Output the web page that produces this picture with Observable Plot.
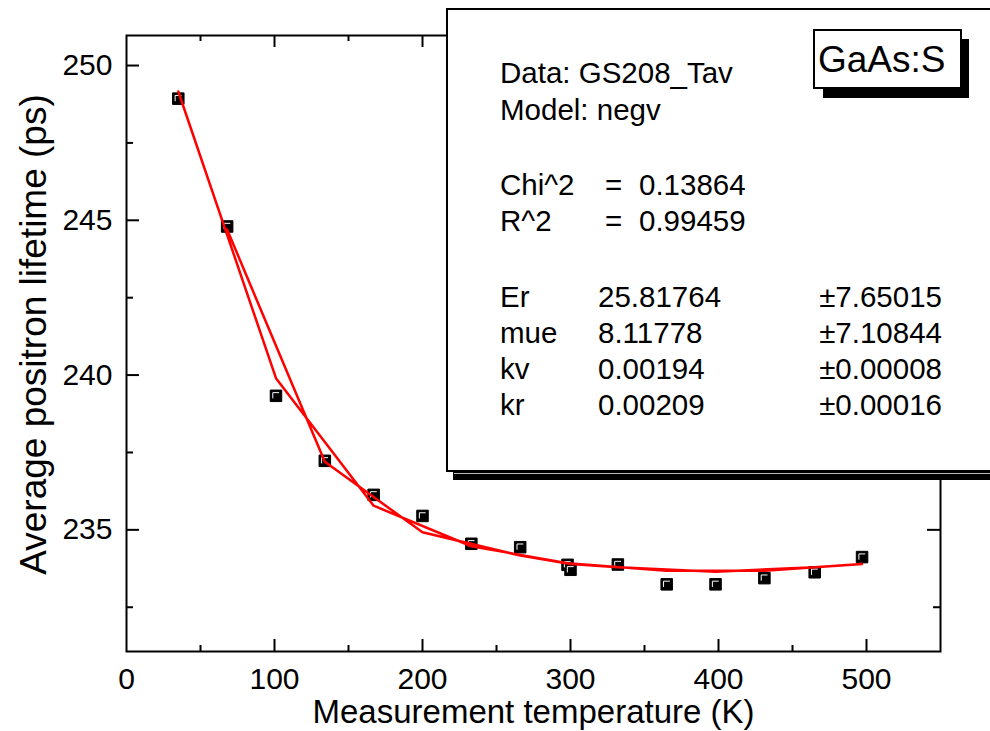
<!DOCTYPE html>
<html>
<head>
<meta charset="utf-8">
<script src="https://cdn.jsdelivr.net/npm/d3@7"></script>
<script src="https://cdn.jsdelivr.net/npm/@observablehq/plot@0.6"></script>
<style>
  body { margin: 0; background: #fff; }
  #wrap { position: relative; width: 990px; height: 731px; overflow: hidden; font-family: "Liberation Sans", Arial, sans-serif; }
  #wrap > svg.overlay { position: absolute; left: 0; top: 0; }
</style>
</head>
<body>
<div id="wrap"></div>
<script>
// Measurement order (heating sweep, then cooling sweep)
const temperature = [35, 101, 167, 233, 298, 365, 431, 497, 465, 398, 332, 300, 266, 200, 134, 68];
const lifetime    = [248.93, 239.33, 236.13, 234.55, 233.87, 233.24, 233.44, 234.12, 233.63, 233.24, 233.88, 233.71, 234.44, 235.45, 237.23, 244.80];
const fitLifetime = [249.16, 239.90, 235.78, 234.47, 233.92, 233.68, 233.68, 233.90, 233.79, 233.65, 233.79, 233.90, 234.17, 234.92, 237.20, 244.70];

const xMajor = [100, 200, 300, 400, 500];
const xMinor = [50, 150, 250, 350, 450];
const xLabels = [0, 100, 200, 300, 400, 500];
const yMajor = [235, 240, 245, 250];
const yMinor = [232.5, 237.5, 242.5, 247.5];

const xTitle = "Measurement temperature (K)";
const yTitle = "Average positron lifetime (ps)";
const sampleLabel = "GaAs:S";
const infoHeader = ["Data: GS208_Tav", "Model: negv"];
const statNames = ["Chi^2", "R^2"];
const statValues = ["0.13864", "0.99459"];
const paramNames = ["Er", "mue", "kv", "kr"];
const paramValues = ["25.81764", "8.11778", "0.00194", "0.00209"];
const paramErrors = ["\u00b17.65015", "\u00b17.10844", "\u00b10.00008", "\u00b10.00016"];

const data = temperature.map((t, i) => ({t, tau: lifetime[i], fit: fitLifetime[i]}));

const W = 990, H = 731;
const mL = 126, mR = 50, mT = 35, mB = 80;
const fw = W - mL - mR, fh = H - mT - mB;
const FONT = '"Liberation Sans", Arial, sans-serif';

const highlight = {
  draw(ctx, size) {
    const s = Math.sqrt(size) / 2;
    ctx.moveTo(-s * 0.55, s * 0.45);
    ctx.lineTo(-s * 0.55, -s * 0.55);
    ctx.lineTo(s * 0.55, -s * 0.55);
  }
};

const chart = Plot.plot({
  width: W, height: H,
  marginLeft: mL, marginRight: mR, marginTop: mT, marginBottom: mB,
  x: {domain: [0, 550]},
  y: {domain: [231.07, 250.97]},
  style: {fontFamily: FONT, fontSize: "30px", background: "white", color: "black", overflow: "visible"},
  marks: [
    Plot.dot(data, {x: "t", y: "tau", symbol: "square", r: 6.5, fill: "black", stroke: "black", strokeWidth: 1}),
    Plot.dot(data, {x: "t", y: "tau", symbol: highlight, r: 6.5, fill: "none", stroke: "white", strokeWidth: 1}),
    Plot.line(data, {x: "t", y: "fit", stroke: "#ff0000", strokeWidth: 2.5}),
    // inward ticks: bottom
    Plot.tickX(xMajor, {x: d => d, stroke: "black", strokeWidth: 2, insetTop: fh - 12}),
    Plot.tickX(xMinor, {x: d => d, stroke: "black", strokeWidth: 2, insetTop: fh - 6}),
    // top
    Plot.tickX(xMajor, {x: d => d, stroke: "black", strokeWidth: 2, insetBottom: fh - 12}),
    Plot.tickX(xMinor, {x: d => d, stroke: "black", strokeWidth: 2, insetBottom: fh - 6}),
    // left
    Plot.tickY(yMajor, {y: d => d, stroke: "black", strokeWidth: 2, insetRight: fw - 13}),
    Plot.tickY(yMinor, {y: d => d, stroke: "black", strokeWidth: 2, insetRight: fw - 7}),
    // right
    Plot.tickY(yMajor, {y: d => d, stroke: "black", strokeWidth: 2, insetLeft: fw - 13}),
    Plot.tickY(yMinor, {y: d => d, stroke: "black", strokeWidth: 2, insetLeft: fw - 7}),
    Plot.frame({stroke: "black", strokeWidth: 2}),
    Plot.axisX(xLabels, {tickSize: 0, tickPadding: 16, fontSize: 30, label: null}),
    Plot.axisY(yMajor, {tickSize: 0, tickPadding: 14, fontSize: 30, label: null}),
    Plot.text([xTitle], {frameAnchor: "bottom", dy: 71, fontSize: 33, text: d => d}),
    Plot.text([yTitle], {frameAnchor: "left", textAnchor: "middle", rotate: -90, dx: -92, dy: -9, fontSize: 37, text: d => d})
  ]
});

const wrap = document.getElementById("wrap");
wrap.appendChild(chart);

// Annotation overlay: fit-result box and sample label
const ov = d3.create("svg").attr("class", "overlay").attr("width", W).attr("height", H)
  .style("font-family", FONT);

// fit box shadow + box
ov.append("rect").attr("x", 453).attr("y", 472).attr("width", 600).attr("height", 8).attr("fill", "black");
ov.append("line").attr("x1", 454).attr("x2", 1000).attr("y1", 473.5).attr("y2", 473.5).attr("stroke", "#bbb").attr("stroke-width", 1);
ov.append("rect").attr("x", 447).attr("y", 9).attr("width", 620).attr("height", 462)
  .attr("fill", "white").attr("stroke", "black").attr("stroke-width", 2);

const tx = 500, fs = 29.5;
const txt = (x, y, s, anchor = "start", size = fs) =>
  ov.append("text").attr("x", x).attr("y", y).attr("font-size", size).attr("text-anchor", anchor).attr("fill", "black").text(s);

txt(tx, 83, infoHeader[0]);
txt(tx, 120, infoHeader[1]);
const statY = [195, 231];
statNames.forEach((n, i) => {
  txt(tx, statY[i], n);
  txt(605, statY[i], "=");
  txt(639, statY[i], statValues[i]);
});
const parY = [307, 343, 379, 415];
paramNames.forEach((n, i) => {
  txt(tx, parY[i], n);
  txt(598, parY[i], paramValues[i]);
  txt(942, parY[i], paramErrors[i], "end");
});

// sample label box
ov.append("rect").attr("x", 962).attr("y", 39).attr("width", 7).attr("height", 59).attr("fill", "black");
ov.append("rect").attr("x", 823).attr("y", 89).attr("width", 146).attr("height", 9).attr("fill", "black");
ov.append("rect").attr("x", 814).attr("y", 30).attr("width", 147).attr("height", 58)
  .attr("fill", "white").attr("stroke", "black").attr("stroke-width", 2);
txt(818, 72, sampleLabel, "start", 37);

wrap.appendChild(ov.node());
</script>
</body>
</html>
